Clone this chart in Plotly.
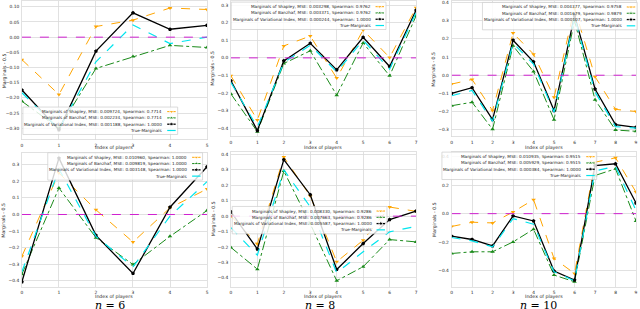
import plotly.graph_objects as go

W, H = 640, 309

# ---------------- data ----------------
players_6 = [0, 1, 2, 3, 4, 5]
players_8 = [0, 1, 2, 3, 4, 5, 6, 7]
players_10 = [0, 1, 2, 3, 4, 5, 6, 7, 8, 9]

# top row, n = 6
top6_shapley = [-0.074, -0.189, 0.035, 0.056, 0.096, 0.091]
top6_banzhaf = [-0.211, -0.300, -0.103, -0.064, -0.027, -0.034]
top6_variational = [-0.174, -0.305, -0.046, 0.080, 0.026, 0.039]
top6_true = [-0.183, -0.302, -0.081, 0.040, -0.021, 0.000]
top6_mse = ["0.009724", "0.002234", "0.001188"]
top6_spearman = ["0.7714", "0.7714", "1.0000"]

# top row, n = 8
top8_shapley = [-0.102, -0.353, 0.068, 0.124, -0.115, 0.158, 0.002, 0.285]
top8_banzhaf = [-0.205, -0.419, -0.032, 0.040, -0.212, 0.085, -0.102, 0.238]
top8_variational = [-0.130, -0.413, -0.017, 0.083, -0.068, 0.117, -0.049, 0.270]
top8_true = [-0.140, -0.394, -0.026, 0.072, -0.079, 0.100, -0.064, 0.257]
top8_mse = ["0.003298", "0.003371", "0.000244"]
top8_spearman = ["0.9762", "0.9762", "1.0000"]

# top row, n = 10
top10_shapley = [-0.049, -0.023, -0.195, 0.232, 0.116, -0.122, 0.370, -0.008, -0.188, -0.200]
top10_banzhaf = [-0.168, -0.149, -0.298, 0.162, 0.021, -0.245, 0.300, -0.135, -0.302, -0.309]
top10_variational = [-0.100, -0.069, -0.245, 0.193, 0.074, -0.195, 0.330, -0.076, -0.272, -0.287]
top10_true = [-0.113, -0.084, -0.254, 0.177, 0.061, -0.204, 0.320, -0.092, -0.283, -0.292]
top10_mse = ["0.004377", "0.001679", "0.000107"]
top10_spearman = ["0.9758", "0.9879", "1.0000"]

# bottom row, n = 6
bot6_shapley = [-0.252, 0.250, 0.028, -0.166, 0.040, 0.154]
bot6_banzhaf = [-0.360, 0.160, -0.140, -0.302, -0.132, 0.024]
bot6_variational = [-0.406, 0.340, -0.126, -0.356, 0.044, 0.288]
bot6_true = [-0.346, 0.274, -0.132, -0.316, -0.010, 0.198]
bot6_mse = ["0.010960", "0.009819", "0.003148"]
bot6_spearman = ["1.0000", "1.0000", "1.0000"]

# bottom row, n = 8
bot8_shapley = [0.000, -0.180, 0.383, 0.130, -0.296, -0.156, 0.059, 0.031]
bot8_banzhaf = [-0.203, -0.344, 0.292, -0.050, -0.419, -0.328, -0.152, -0.167]
bot8_variational = [0.028, -0.214, 0.366, 0.139, -0.346, -0.178, -0.022, 0.033]
bot8_true = [-0.074, -0.253, 0.300, 0.060, -0.367, -0.231, -0.102, -0.066]
bot8_mse = ["0.008330", "0.007663", "0.005587"]
bot8_spearman = ["0.9286", "0.9286", "1.0000"]

# bottom row, n = 10
bot10_shapley = [-0.090, -0.060, -0.065, 0.012, 0.098, -0.314, -0.419, 0.360, 0.391, 0.151]
bot10_banzhaf = [-0.279, -0.267, -0.267, -0.198, -0.109, -0.430, -0.477, 0.267, 0.314, -0.051]
bot10_variational = [-0.158, -0.181, -0.226, -0.016, -0.051, -0.402, -0.465, 0.337, 0.349, 0.074]
bot10_true = [-0.167, -0.191, -0.233, -0.035, -0.074, -0.407, -0.470, 0.300, 0.330, 0.023]
bot10_mse = ["0.010935", "0.005929", "0.000384"]
bot10_spearman = ["0.9515", "0.9515", "1.0000"]

method_names = ["Shapley", "Banzhaf", "Variational Index"]
true_name = "True-Marginals"
x_title = "Index of players"
y_title = "Marginals - 0.5"
n_labels = ["6", "8", "10"]

panels = [
    (players_6, top6_shapley, top6_banzhaf, top6_variational, top6_true, top6_mse, top6_spearman),
    (players_8, top8_shapley, top8_banzhaf, top8_variational, top8_true, top8_mse, top8_spearman),
    (players_10, top10_shapley, top10_banzhaf, top10_variational, top10_true, top10_mse, top10_spearman),
    (players_6, bot6_shapley, bot6_banzhaf, bot6_variational, bot6_true, bot6_mse, bot6_spearman),
    (players_8, bot8_shapley, bot8_banzhaf, bot8_variational, bot8_true, bot8_mse, bot8_spearman),
    (players_10, bot10_shapley, bot10_banzhaf, bot10_variational, bot10_true, bot10_mse, bot10_spearman),
]

# ---------------- layout (pixels) ----------------
frames = [(21, 207, 0, 139), (231, 417, 0, 136), (452.7, 638, 0, 136),
          (21, 207, 152, 287), (231, 417, 151, 286.7), (452.7, 638, 151, 286.7)]
yranges = [(-0.337, 0.119), (-0.447, 0.323), (-0.338, 0.409),
           (-0.438, 0.374), (-0.458, 0.419), (-0.512, 0.435)]
ydticks = [0.05, 0.1, 0.1, 0.1, 0.1, 0.2]
yfmts = [".2f", ".1f", ".1f", ".1f", ".1f", ".1f"]
ytitle_x = [3, 213, 435, 3, 213, 435]
xtitle_y = [147, 147, 147, 296.5, 296.5, 296.5]
# legend: text right edge, first row y
legends = [(164, 111), (373.3, 5.7), (625.7, 6.0), (189, 156.8), (374.3, 210.7), (585, 156.2)]
row_gap = 6.3

ORANGE = "#FFA500"
GREEN = "#1a8a1a"
BLACK = "#000000"
CYAN = "#00E5EE"
MAGENTA = "#D020D0"
GRID = "#d9d9d9"
TXT = "#262626"
FONT = "DejaVu Sans"

styles = [
    dict(color=ORANGE, dash="dash", symbol="triangle-down", width=1.0),
    dict(color=GREEN, dash="dashdot", symbol="triangle-up", width=1.0),
    dict(color=BLACK, dash="solid", symbol="pentagon", width=1.3),
]

fig = go.Figure()
annotations = []

def px2x(p):
    return p / W

def py2y(p):
    return 1 - p / H

for i, (xs, sh, bz, vi, tr, mse, sp) in enumerate(panels):
    k = i + 1
    xa = "x" if k == 1 else f"x{k}"
    ya = "y" if k == 1 else f"y{k}"
    for ser, st in zip([sh, bz, vi], styles):
        fig.add_trace(go.Scatter(
            x=xs, y=ser, mode="lines+markers", xaxis=xa, yaxis=ya, showlegend=False,
            line=dict(color=st["color"], dash=st["dash"], width=st["width"]),
            marker=dict(symbol=st["symbol"], size=4, color=st["color"]),
            hoverinfo="skip"))
    fig.add_trace(go.Scatter(
        x=xs, y=tr, mode="lines", xaxis=xa, yaxis=ya, showlegend=False,
        line=dict(color=CYAN, dash="dash", width=1.2), hoverinfo="skip"))
    fig.add_trace(go.Scatter(
        x=[xs[0], xs[-1]], y=[0, 0], mode="lines", xaxis=xa, yaxis=ya, showlegend=False,
        line=dict(color=MAGENTA, dash="dash", width=1.0), hoverinfo="skip"))

    l, r, t, b = frames[i]
    axcommon = dict(showgrid=True, gridcolor=GRID, gridwidth=0.8, showline=True,
                    linecolor=GRID, linewidth=0.8, mirror=True, zeroline=False,
                    ticks="", tickfont=dict(family=FONT, size=4.4, color=TXT))
    fig.update_layout(**{
        ("xaxis" if k == 1 else f"xaxis{k}"): dict(
            domain=[px2x(l), px2x(r)], anchor=ya, range=[xs[0], xs[-1]],
            tickmode="array", tickvals=xs, ticklabelstandoff=1, **axcommon),
        ("yaxis" if k == 1 else f"yaxis{k}"): dict(
            domain=[py2y(b), py2y(t)], anchor=xa, range=list(yranges[i]),
            dtick=ydticks[i], tick0=0, tickformat=yfmts[i], ticklabelstandoff=1, **axcommon),
    })
    # axis titles
    annotations.append(dict(xref="paper", yref="paper", x=px2x((l + r) / 2), y=py2y(xtitle_y[i]),
                            text=x_title, showarrow=False, xanchor="center", yanchor="middle",
                            font=dict(family=FONT, size=4.7, color=TXT)))
    annotations.append(dict(xref="paper", yref="paper", x=px2x(ytitle_x[i]), y=py2y((t + b) / 2),
                            text=y_title, showarrow=False, textangle=-90, xanchor="center",
                            yanchor="middle", font=dict(family=FONT, size=4.7, color=TXT)))

    # legend
    trx, r0 = legends[i]
    rows = [r0 + j * row_gap for j in range(4)]
    labels = [f"Marginals of {m}, MSE: {e}, Spearman: {s}" for m, e, s in zip(method_names, mse, sp)]
    labels.append(true_name)
    bl, br = trx - 142, trx + 13.5
    bt, bb = rows[0] - 4.6, rows[-1] + 4.0
    fig.add_trace(go.Scatter(x=[bl, br, br, bl, bl], y=[bt, bt, bb, bb, bt], mode="lines",
                             fill="toself", fillcolor="rgba(255,255,255,0.82)",
                             line=dict(color="#cccccc", width=0.7), xaxis="x7", yaxis="y7",
                             showlegend=False, hoverinfo="skip"))
    h0, h1 = trx + 3.0, trx + 11.5
    for j, lab in enumerate(labels):
        annotations.append(dict(xref="paper", yref="paper", x=px2x(trx), y=py2y(rows[j]),
                                text=lab, showarrow=False, xanchor="right", yanchor="middle",
                                font=dict(family=FONT, size=4.2, color=TXT)))
        if j < 3:
            st = styles[j]
            fig.add_trace(go.Scatter(x=[h0, (h0 + h1) / 2, h1], y=[rows[j]] * 3, mode="lines+markers",
                                     line=dict(color=st["color"], dash=st["dash"], width=st["width"]),
                                     marker=dict(symbol=st["symbol"], size=[0, 4, 0], color=st["color"]),
                                     xaxis="x7", yaxis="y7", showlegend=False, hoverinfo="skip"))
        else:
            fig.add_trace(go.Scatter(x=[h0, h1], y=[rows[j]] * 2, mode="lines",
                                     line=dict(color=CYAN, dash="dash", width=1.2),
                                     xaxis="x7", yaxis="y7", showlegend=False, hoverinfo="skip"))

# n labels
for cx, nl in zip([110, 320, 540], n_labels):
    annotations.append(dict(xref="paper", yref="paper", x=px2x(cx), y=py2y(305.5),
                            text=f"<i>n</i> = {nl}", showarrow=False, xanchor="center",
                            yanchor="middle", font=dict(family="DejaVu Serif", size=11, color="#000")))

fig.update_layout(
    xaxis7=dict(domain=[0, 1], range=[0, W], visible=False, fixedrange=True, anchor="y7"),
    yaxis7=dict(domain=[0, 1], range=[H, 0], visible=False, fixedrange=True, anchor="x7"),
    width=W, height=H, margin=dict(l=0, r=0, t=0, b=0),
    paper_bgcolor="white", plot_bgcolor="rgba(0,0,0,0)",
    showlegend=False, annotations=annotations,
)

fig.write_html("out.html", config={"displayModeBar": False, "staticPlot": True},
               post_script="document.body.style.margin='0';document.body.style.overflow='hidden';")
